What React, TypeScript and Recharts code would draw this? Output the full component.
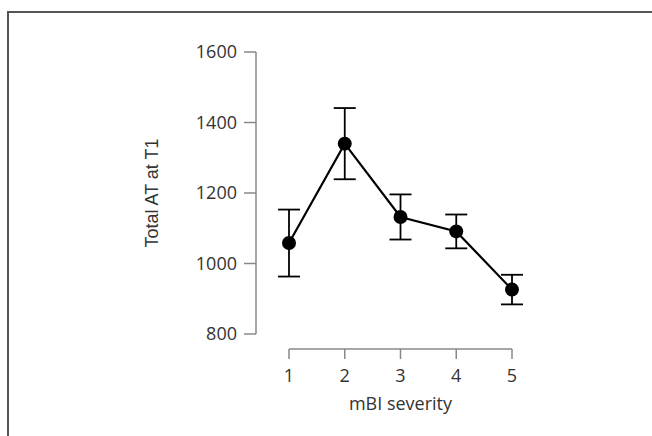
import { ComposedChart, Line, XAxis, YAxis, ErrorBar } from 'recharts'

// mBI severity groups
const severity = [1, 2, 3, 4, 5]
// Total AT at T1, group means and error (+/-)
const meanAT = [1058, 1340, 1132, 1091, 926]
const errAT = [95, 101, 64, 48, 42]
const yTicks = [800, 1000, 1200, 1400, 1600]

const data = severity.map((s, i) => ({ severity: s, at: meanAT[i], err: errAT[i] }))

const tickFont = { fontFamily: '"Open Sans", sans-serif', fontSize: 18, fill: '#333' }
const axisStroke = { stroke: '#888', strokeWidth: 1.5 }

export default function App() {
  return (
    <div style={{ position: 'absolute', left: 0, top: 0, width: 652, height: 436, background: '#fff', overflow: 'hidden' }}>
      {/* frame, only top + left edges visible */}
      <div style={{ position: 'absolute', left: 7, top: 11, width: 700, height: 500, borderLeft: '2px solid #555', borderTop: '2px solid #555' }} />
      <div style={{ position: 'absolute', left: 0, top: 0 }}>
        <ComposedChart width={652} height={436} data={data} margin={{ top: 52, right: 140, bottom: 17, left: 130 }}>
          {/* spacer axes keep the axes detached from the data area */}
          <YAxis yAxisId="sp" type="number" domain={[0, 1]} width={33} tick={false} axisLine={false} tickLine={false} />
          <YAxis
            yAxisId="y"
            type="number"
            domain={[800, 1600]}
            ticks={yTicks}
            width={126}
            tickSize={12}
            tickMargin={7}
            axisLine={axisStroke}
            tickLine={axisStroke}
            tick={tickFont}
            label={{
              value: 'Total AT at T1',
              angle: -90,
              position: 'insideLeft',
              offset: 22,
              textAnchor: 'middle',
              fontFamily: '"Liberation Sans", Arial, sans-serif',
              fontSize: 18,
              fill: '#333',
              style: { textAnchor: 'middle', fontFamily: '"Liberation Sans", Arial, sans-serif' },
            }}
          />
          <XAxis xAxisId="sp" type="number" domain={[0, 1]} height={15} tick={false} axisLine={false} tickLine={false} />
          <XAxis
            xAxisId="x"
            dataKey="severity"
            type="number"
            domain={[1, 5]}
            ticks={severity}
            height={70}
            tickSize={10}
            tickMargin={10}
            axisLine={axisStroke}
            tickLine={axisStroke}
            tick={tickFont}
            label={{
              value: 'mBI severity',
              position: 'insideBottom',
              offset: 9,
              fontFamily: '"Open Sans", sans-serif',
              fontSize: 18,
              fill: '#333',
            }}
          />
          <Line
            xAxisId="x"
            yAxisId="y"
            dataKey="at"
            stroke="#000"
            strokeWidth={2.2}
            dot={{ r: 7, fill: '#000', stroke: '#000', strokeWidth: 0 }}
            activeDot={false}
            isAnimationActive={false}
          >
            <ErrorBar dataKey="err" direction="y" width={11} stroke="#000" strokeWidth={1.8} isAnimationActive={false} />
          </Line>
        </ComposedChart>
      </div>
    </div>
  )
}
